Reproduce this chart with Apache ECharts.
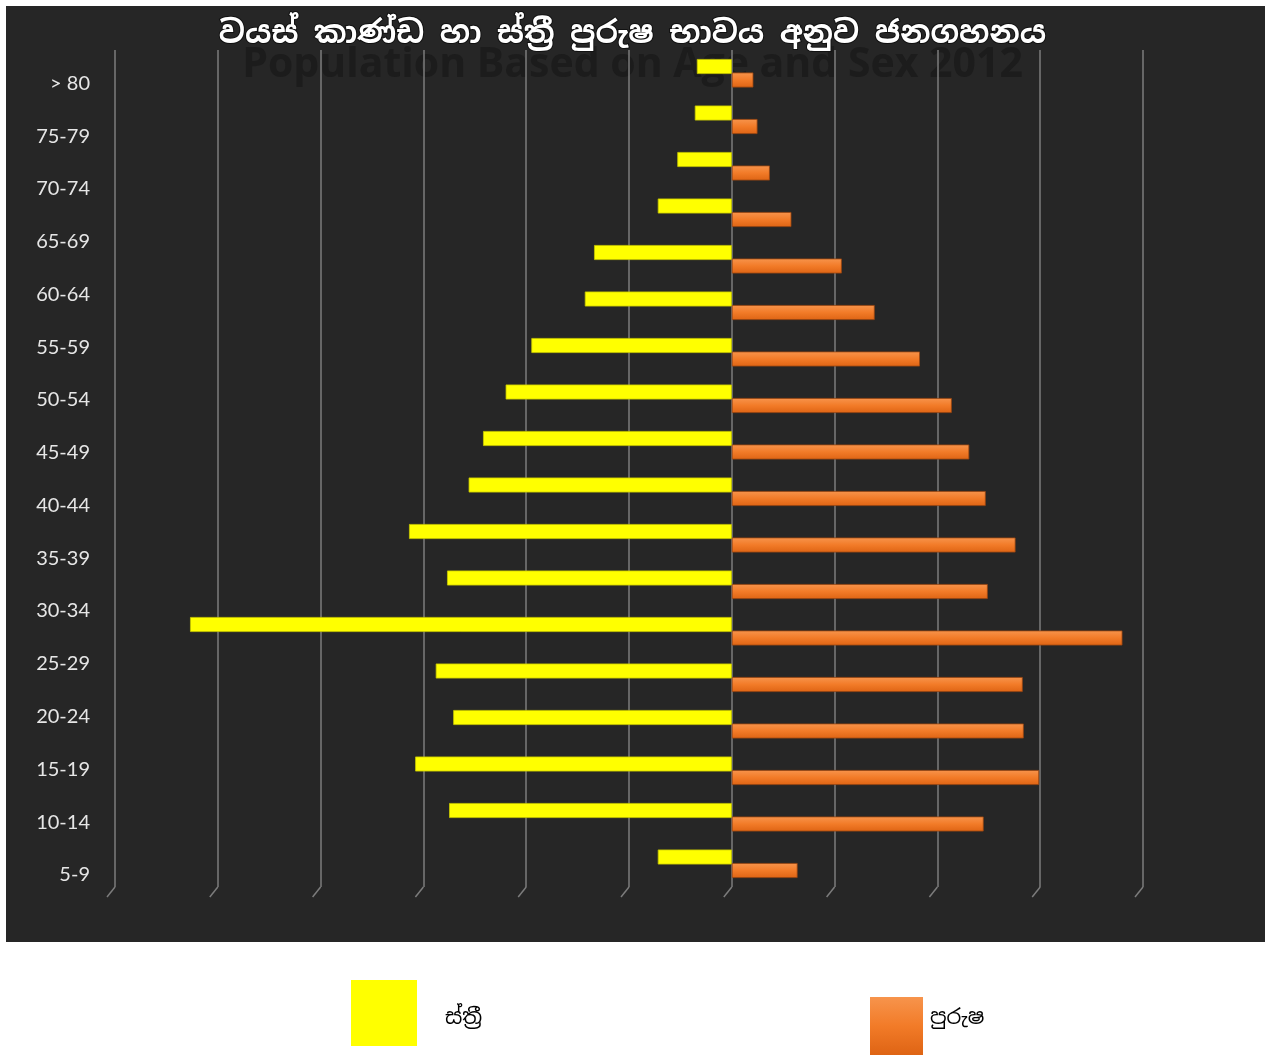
<!DOCTYPE html>
<html>
<head>
<meta charset="utf-8">
<script src="https://cdn.jsdelivr.net/npm/echarts@6/dist/echarts.min.js"></script>
<style>
  html, body { margin: 0; padding: 0; background: #ffffff; }
  #panel { position: absolute; left: 6px; top: 6px; width: 1259px; height: 936px; background: #262626; }
  #chart { position: absolute; left: 0; top: 0; width: 1265px; height: 1055px; }
</style>
</head>
<body>
<div id="panel"></div>
<div id="chart"></div>
<script>
// Age groups shown on the category axis, top to bottom
const ageGroups = ['> 80', '75-79', '70-74', '65-69', '60-64', '55-59', '50-54', '45-49',
  '40-44', '35-39', '30-34', '25-29', '20-24', '15-19', '10-14', '5-9', '0-4'];

// Bar rows (top to bottom)
const barRows = ['1', '2', '3', '4', '5', '6', '7', '8', '9', '10', '11', '12', '13', '14', '15', '16', '17', '18'];

// Female population (drawn to the left)
const female = [0.34, 0.36, 0.53, 0.72, 1.34, 1.43, 1.95, 2.20, 2.42, 2.56, 3.14, 2.77, 5.27, 2.88, 2.71, 3.08, 2.75, 0.72];
// Male population (drawn to the right)
const male = [0.21, 0.25, 0.37, 0.58, 1.07, 1.39, 1.83, 2.14, 2.31, 2.47, 2.76, 2.49, 3.80, 2.83, 2.84, 2.99, 2.45, 0.64];

// Value axis scale
const axisMin = -6, axisMax = 4, axisStep = 1;
const tickValues = [];
for (let v = axisMin; v <= axisMax; v += axisStep) tickValues.push(v);

const femaleName = 'ස්ත්‍රී';
const maleName = 'පුරුෂ';
const sinhalaFont = '"Noto Sans Sinhala", "Iskoola Pota", "Noto Sans", sans-serif';

const chart = echarts.init(document.getElementById('chart'), null, { renderer: 'canvas' });

const orangeFill = new echarts.graphic.LinearGradient(0, 0, 0, 1, [
  { offset: 0, color: '#f7944c' },
  { offset: 0.5, color: '#f27b28' },
  { offset: 1, color: '#de6414' }
]);

chart.setOption({
  backgroundColor: 'transparent',
  animation: false,
  title: {
    text: 'වයස් කාණ්ඩ හා ස්ත්‍රී පුරුෂ භාවය අනුව ජනගහනය',
    left: 'center',
    top: 14,
    textStyle: {
      color: '#ffffff',
      fontFamily: sinhalaFont,
      fontWeight: 'bold',
      fontSize: 31,
      textBorderColor: '#111111',
      textBorderWidth: 2
    }
  },
  graphic: [
    {
      type: 'text',
      z: -5,
      left: 'center',
      top: 45,
      style: {
        text: 'Population Based on Age and Sex 2012',
        fill: '#1c1c1c',
        font: 'bold 41px "Open Sans", sans-serif'
      }
    },
    {
      type: 'rect',
      z: 100,
      shape: { x: 6, y: 920, width: 300, height: 22 },
      style: { fill: '#262626' }
    }
  ],
  legend: [
    {
      data: [femaleName],
      left: 351,
      top: 980,
      padding: 0,
      itemWidth: 66,
      itemHeight: 66,
      icon: 'rect',
      itemStyle: { borderWidth: 0 },
      formatter: '{t|{name}}',
      textStyle: {
        rich: { t: { color: '#000000', fontSize: 21, fontFamily: sinhalaFont, padding: [10, 0, 0, 23] } }
      }
    },
    {
      data: [maleName],
      left: 870,
      top: 997,
      padding: 0,
      itemWidth: 53,
      itemHeight: 58,
      icon: 'rect',
      itemStyle: { borderWidth: 0 },
      formatter: '{t|{name}}',
      textStyle: {
        rich: { t: { color: '#000000', fontSize: 21, fontFamily: sinhalaFont, padding: [0, 0, 16, 2] } }
      }
    }
  ],
  grid: [
    { left: 98, top: 57, width: 1000, height: 897 },
    { left: 115, top: 50, width: 1028, height: 837 }
  ],
  xAxis: [
    { gridIndex: 0, type: 'value', show: false },
    {
      gridIndex: 1,
      type: 'value',
      min: axisMin,
      max: axisMax,
      interval: axisStep,
      axisLine: { show: false },
      axisTick: { show: false },
      axisLabel: { show: false },
      splitLine: { show: true, lineStyle: { color: '#7c7c7c', width: 1.5 } }
    }
  ],
  yAxis: [
    {
      gridIndex: 0,
      type: 'category',
      inverse: true,
      data: ageGroups,
      axisLine: { show: false },
      axisTick: { show: false },
      axisLabel: {
        color: '#e6e6e6',
        fontSize: 20,
        fontFamily: 'Lato, "Open Sans", sans-serif',
        margin: 8
      }
    },
    {
      gridIndex: 1,
      type: 'category',
      inverse: true,
      data: barRows,
      show: false
    }
  ],
  series: [
    {
      name: femaleName,
      type: 'bar',
      xAxisIndex: 1,
      yAxisIndex: 1,
      barWidth: 15,
      barGap: '-10%',
      data: female.map(v => -v),
      itemStyle: { color: '#ffff00', borderColor: '#c8c800', borderWidth: 0.8 }
    },
    {
      name: maleName,
      type: 'bar',
      xAxisIndex: 1,
      yAxisIndex: 1,
      barWidth: 15,
      data: male,
      itemStyle: { color: orangeFill, borderColor: '#9a4612', borderWidth: 0.8 }
    },
    {
      // small slanted foot under each grid line
      type: 'custom',
      xAxisIndex: 1,
      yAxisIndex: 1,
      silent: true,
      data: tickValues.map(v => [v, 0]),
      renderItem: function (params, api) {
        const cs = params.coordSys;
        const x = api.coord([api.value(0), 0])[0];
        const yb = cs.y + cs.height;
        return {
          type: 'line',
          shape: { x1: x, y1: yb, x2: x - 8, y2: yb + 10 },
          style: { stroke: '#7c7c7c', lineWidth: 1.5 }
        };
      }
    }
  ]
});
</script>
</body>
</html>
